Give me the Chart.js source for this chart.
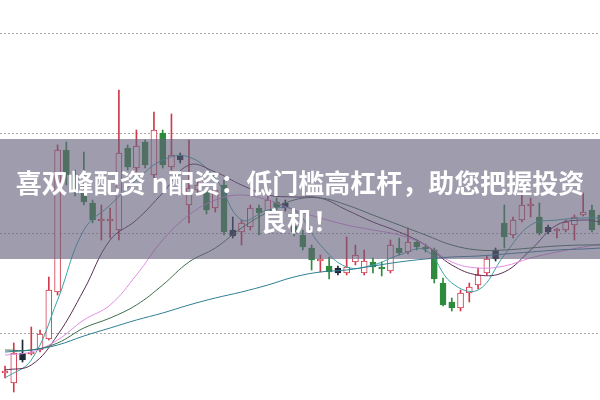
<!DOCTYPE html>
<html><head><meta charset="utf-8">
<script src="https://cdn.jsdelivr.net/npm/chart.js@4"></script>
<style>
html,body{margin:0;padding:0;background:#fff;}
#wrap{position:relative;width:600px;height:400px;overflow:hidden;}
#banner{position:absolute;left:0;top:139px;width:600px;height:120px;box-sizing:border-box;padding-top:4px;background:rgba(100,96,122,0.62);display:flex;align-items:center;justify-content:center;text-align:center;color:#fff;font-family:"Noto Sans CJK SC","Noto Sans",sans-serif;font-weight:700;font-size:26px;line-height:38px;}
</style></head><body>
<div id="wrap"><canvas id="c" width="600" height="400"></canvas><div id="banner"><div>喜双峰配资 n配资：低门槛高杠杆，助您把握投资<br>良机！</div></div></div>
<script>
// candle data (price units)
const opens  = [9.60,9.50,9.80,9.79,9.83,9.94,10.41,11.83,11.58,11.43,11.30,11.12,11.12,11.03,11.85,11.65,11.91,11.58,12.00,11.66,11.78,11.28,11.43,11.43,11.25,11.48,11.03,11.01,11.06,11.25,11.21,11.31,11.30,11.07,10.98,10.85,10.72,10.67,10.65,10.60,10.71,10.60,10.71,10.66,10.62,10.85,10.81,10.91,10.86,10.83,10.50,10.31,10.25,10.40,10.48,10.60,10.74,11.10,10.98,11.13,11.27,11.16,11.06,11.02,11.03,11.08,11.18,11.23,11.18];
const highs  = [9.67,9.90,9.93,10.06,10.03,10.56,11.88,11.91,11.63,11.81,11.33,11.28,11.25,12.43,11.88,12.03,11.93,12.21,12.03,12.19,11.80,11.93,11.53,11.48,11.48,11.53,11.16,11.13,11.28,11.28,11.37,11.35,11.33,11.13,11.03,10.88,10.78,10.76,10.67,10.96,10.88,10.83,10.75,10.71,10.93,10.95,11.05,10.93,10.89,10.85,10.55,10.35,10.43,10.50,10.65,10.77,10.85,11.28,11.16,11.41,11.35,11.30,11.08,11.05,11.13,11.18,11.40,11.28,11.21];
const lows   = [9.55,9.41,9.71,9.78,9.81,9.93,10.38,11.48,11.37,11.28,11.10,10.93,10.95,10.93,11.63,11.61,11.65,11.40,11.65,11.63,11.70,11.10,11.38,11.19,11.21,10.98,10.95,10.88,11.03,10.98,11.18,11.23,11.22,10.97,10.83,10.63,10.61,10.54,10.58,10.58,10.68,10.58,10.60,10.57,10.60,10.78,10.79,10.83,10.81,10.50,10.27,10.22,10.22,10.31,10.44,10.58,10.72,10.85,10.95,11.11,11.16,10.98,10.99,10.95,11.01,10.93,11.17,11.01,11.05];
const closes = [9.62,9.80,9.73,9.81,9.99,10.43,11.83,11.58,11.43,11.31,11.13,11.14,11.14,11.80,11.66,11.87,11.68,12.03,11.68,11.78,11.73,11.45,11.48,11.23,11.43,11.01,10.97,11.10,11.25,11.20,11.33,11.26,11.25,11.01,10.86,10.73,10.74,10.61,10.60,10.66,10.78,10.72,10.66,10.64,10.88,10.80,10.91,10.86,10.84,10.54,10.28,10.25,10.40,10.46,10.58,10.74,10.83,10.96,11.13,11.28,11.29,11.00,11.01,11.04,11.11,11.16,11.21,11.03,11.08];
const signals = [0,0,1,0,0,0,0,0,0,0,0,0,0,0,0,0,0,0,0,0,1,0,0,0,0,0,1,0,0,0,0,0,1,0,0,0,0,0,1,0,0,0,0,0,0,0,0,0,0,0,0,0,0,0,0,0,1,0,0,0,0,0,1,0,0,0,0,0,0];
// moving-average lines, read at these candle positions
const maIndex = [0,3,6,9,12,15,18,21,24,27,30,33,36,39,42,45,48,51,54,57,60,63,66,68];
const ma5  = [9.55,9.73,10.33,11.03,11.28,11.53,11.73,11.76,11.55,11.13,11.23,11.23,10.88,10.66,10.68,10.78,10.83,10.50,10.43,10.78,11.08,11.13,11.15,11.15];
const ma10 = [9.63,9.68,9.98,10.43,10.93,11.13,11.40,11.68,11.61,11.48,11.38,11.36,11.35,11.23,11.11,11.01,10.88,10.68,10.58,10.61,10.83,11.08,11.13,11.11];
const ma20 = [9.78,9.81,9.93,10.13,10.28,10.58,10.93,11.18,11.33,11.38,11.33,11.23,11.15,11.08,11.03,10.98,10.88,10.71,10.65,10.67,10.75,10.81,10.86,10.89];
const ma30 = [9.83,9.83,9.90,10.05,10.15,10.28,10.48,10.71,10.85,11.05,11.21,11.33,11.35,11.28,11.18,11.08,10.98,10.88,10.83,10.83,10.85,10.87,10.88,10.88];
const ma60 = [9.81,9.83,9.88,9.97,10.05,10.13,10.20,10.28,10.35,10.41,10.48,10.56,10.61,10.63,10.67,10.71,10.74,10.76,10.77,10.79,10.81,10.83,10.84,10.85];
const gridTicks = [10,11,12,13];

const RED='#d03a4c', GREEN='#2e8b3e', DARK='#1c2836';
const idx = closes.map((_, i) => i);
const colorOf = i => signals[i] ? DARK : (closes[i] >= opens[i] ? RED : GREEN);
const fillOf = i => signals[i] ? DARK : (closes[i] >= opens[i] ? '#ffffff' : GREEN);
const maLine = (vals, color) => ({
  type:'line', data: maIndex.map((x,k)=>({x, y: vals[k]})), borderColor: color,
  borderWidth: 1, pointRadius: 0, tension: 0.4, fill: false, order: 0
});

new Chart(document.getElementById('c'), {
  type: 'bar',
  data: {
    datasets: [
      maLine(ma60, '#2f7f95'),
      maLine(ma30, '#3c6e4a'),
      maLine(ma20, '#e08ee0'),
      maLine(ma10, '#5a2d52'),
      maLine(ma5,  '#3aa5a8'),
      { type:'bar', data: idx.map(i=>({x:i, y:[Math.min(opens[i],closes[i]), Math.max(opens[i],closes[i])]})),
        backgroundColor: idx.map(fillOf), borderColor: idx.map(colorOf), borderWidth: 1,
        borderSkipped: false, barThickness: 6, grouped: false, order: 2 },
      { type:'bar', data: idx.map(i=>({x:i, y:[lows[i], highs[i]]})),
        backgroundColor: idx.map(colorOf), barThickness: 1, grouped: false, order: 3 }
    ]
  },
  options: {
    responsive: false, animation: false, devicePixelRatio: 1,
    layout: { padding: 0 },
    plugins: { legend: { display: false }, tooltip: { enabled: false } },
    scales: {
      x: { type: 'linear', min: -0.571, max: 67.92, offset: false, display: false },
      y: { min: 9.33, max: 13.33,
           afterBuildTicks: s => { s.ticks = gridTicks.map(v => ({ value: v })); },
           afterFit: s => { s.width = 0; },
           ticks: { display: false },
           grid: { color: '#a8a8a8', drawTicks: false, lineWidth: 1 },
           border: { display: false, dash: [2, 2] } }
    }
  }
});
</script>
</body></html>
